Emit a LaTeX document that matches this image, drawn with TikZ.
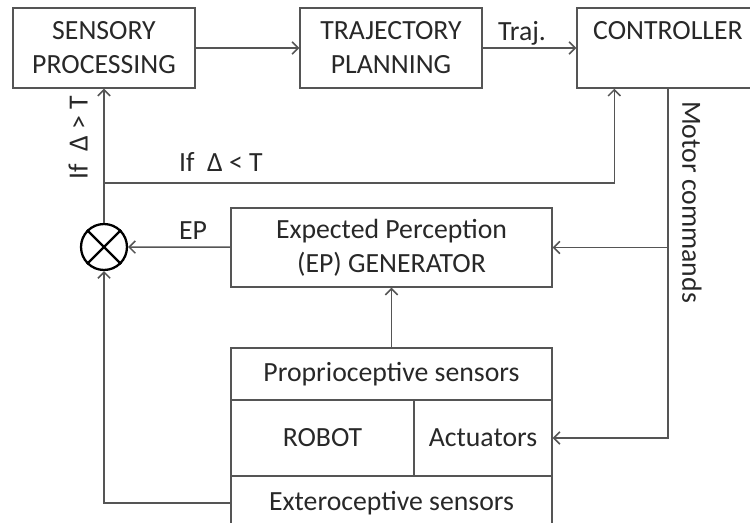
\documentclass[tikz,border=0pt]{standalone}
\usepackage{fontspec}
\setmainfont{Carlito}
\usetikzlibrary{arrows.meta, positioning, calc}
\definecolor{lgray}{RGB}{85,85,85}
\definecolor{tgray}{RGB}{40,40,40}
\tikzset{
  % plain block
  BX/.style={rectangle,draw=lgray,line width=0.85pt,text=tgray,
             minimum width=#1,align=center,inner sep=2pt,
             font=\fontsize{15.8}{19.3}\selectfont},
  BX/.default=3.64cm,
  % summing junction
  SJ/.style={circle,draw=black,line width=1.3pt,minimum size=0.92cm,inner sep=0pt},
  % signal text
  Lbl/.style={text=tgray,font=\fontsize{15.8}{18}\selectfont,inner sep=1pt},
  % arrows
  Arr/.style={-{Straight Barb[length=3.5pt,width=7pt]},line width=0.85pt,color=lgray},
}
\begin{document}
\begin{tikzpicture}[x=0.02cm,y=-0.02cm]
  \useasboundingbox (0,0) rectangle (750,523);
  \clip (0,0) rectangle (750,523);
  % top row
  \node[BX,minimum height=1.6cm] at (104,48) (sens) {SENSORY\\PROCESSING};
  \node[BX,minimum height=1.6cm] at (391,48) (traj) {TRAJECTORY\\PLANNING};
  \node[BX,minimum height=1.6cm] at (668,48) (ctrl) {CONTROLLER\\\phantom{PROCESSING}};
  \draw[Arr] (sens)--(traj);
  \draw[Arr] (traj)--(ctrl);
  \node[Lbl] at (522,33) (ltraj) {Traj.};
  % expected perception
  \node[BX=6.42cm,minimum height=1.58cm] at (391.5,247.5) (gen)
       {Expected Perception\\(EP) GENERATOR};
  \node[SJ] at (104,247) (sum) {};
  \draw[line width=1.3pt] (sum.north west)--(sum.south east)
                          (sum.north east)--(sum.south west);
  \draw[Arr] (gen)--(sum);
  \node[Lbl] at (193,231) (lep) {EP};
  % robot block
  \node[BX=6.42cm,minimum height=1.04cm] at (391.5,374) (prop)
       {Proprioceptive sensors};
  \node[BX=3.66cm,minimum height=1.52cm] at (322.5,438) (rob) {ROBOT};
  \node[BX=2.76cm,minimum height=1.52cm] at (483,438) (act) {Actuators};
  \node[BX=6.42cm,minimum height=1.08cm] at (391.5,503) (ext)
       {Exteroceptive sensors};
  \draw[Arr] (prop)--(gen);
  % feedback paths
  \coordinate (br) at (104,183);
  \draw[Arr] (sum.north)--(sens.south);
  \draw[Arr] (br) -| ([xshift=0.76cm]ctrl.south west);
  \node[Lbl] at (221,162) (lless) {If\ \ Δ < T};
  \node[Lbl,rotate=90] at (78,138) (lmore) {If\ \ Δ > T};
  \draw[Arr] (ext.west) -| (sum.south);
  % motor commands
  \draw[Arr] (ctrl.south) |- (act.east);
  \draw[Arr] (ctrl.south |- gen.east)--(gen.east);
  \node[Lbl,rotate=-90] at (692,202) (lmot) {Motor commands};
\end{tikzpicture}
\end{document}
